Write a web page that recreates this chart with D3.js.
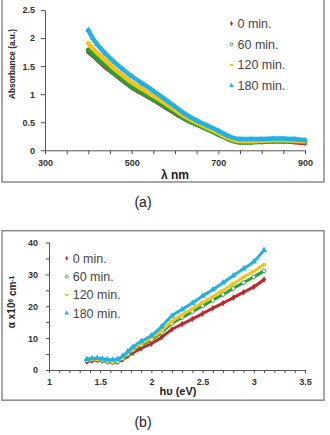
<!DOCTYPE html>
<html>
<head>
<meta charset="utf-8">
<script src="https://cdnjs.cloudflare.com/ajax/libs/d3/7.8.5/d3.min.js"></script>
<style>
body { margin: 0; background: #fff; }
svg { display: block; font-family: "Liberation Sans", Arial, sans-serif; }
</style>
</head>
<body>
<div id="graph"></div>
<script>

// series (same 4 samples in both panels)
var seriesNames  = ["0 min.", "60 min.", "120 min.", "180 min."];
var seriesColors = ["#c1272d", "#23a13c", "#f3c417", "#22b1e6"];
var seriesShapes = ["diamond", "circle", "dash", "triangle"];

// (a) absorbance vs wavelength (nm)
var wavelength = [400, 410, 420, 440, 460, 480, 500, 525, 550, 575, 600, 625, 650, 675, 700, 725, 750, 775, 800, 825, 850, 875, 900];
var abs0   = [1.76, 1.69, 1.62, 1.48, 1.36, 1.24, 1.12, 1.01, 0.90, 0.78, 0.66, 0.55, 0.46, 0.38, 0.29, 0.20, 0.15, 0.15, 0.16, 0.16, 0.16, 0.15, 0.13];
var abs60  = [1.79, 1.72, 1.64, 1.50, 1.37, 1.25, 1.13, 1.02, 0.91, 0.79, 0.67, 0.55, 0.46, 0.37, 0.28, 0.19, 0.14, 0.14, 0.15, 0.16, 0.16, 0.16, 0.15];
var abs120 = [1.91, 1.82, 1.74, 1.60, 1.45, 1.33, 1.21, 1.09, 0.97, 0.85, 0.72, 0.59, 0.49, 0.40, 0.31, 0.21, 0.16, 0.16, 0.17, 0.18, 0.18, 0.17, 0.16];
var abs180 = [2.14, 2.00, 1.89, 1.72, 1.57, 1.44, 1.32, 1.19, 1.06, 0.92, 0.78, 0.64, 0.53, 0.44, 0.35, 0.25, 0.20, 0.20, 0.20, 0.21, 0.21, 0.20, 0.18];
var aXTicks = [300, 500, 700, 900];
var aYTicks = [0, 0.5, 1, 1.5, 2, 2.5];

// (b) absorption coefficient vs photon energy (eV)
var energy = [1.37, 1.42, 1.47, 1.52, 1.57, 1.62, 1.67, 1.72, 1.77, 1.82, 1.90, 2.00, 2.10, 2.20, 2.30, 2.40, 2.50, 2.60, 2.70, 2.80, 2.90, 3.00, 3.10];
var alpha0   = [2.6, 2.9, 3.1, 2.9, 2.7, 2.5, 2.6, 3.3, 4.4, 5.4, 6.8, 8.3, 10.3, 12.7, 14.4, 16.0, 17.7, 19.4, 21.0, 22.7, 24.4, 26.1, 28.4];
var alpha60  = [3.0, 3.2, 3.3, 3.0, 2.7, 2.4, 2.6, 3.6, 4.9, 6.2, 7.8, 9.5, 11.8, 14.6, 16.5, 18.3, 20.1, 21.9, 23.7, 25.6, 27.4, 29.2, 31.1];
var alpha120 = [3.1, 3.3, 3.4, 3.2, 3.0, 2.8, 3.0, 4.0, 5.3, 6.5, 8.3, 10.1, 12.3, 15.3, 17.3, 19.2, 21.2, 23.0, 25.0, 27.1, 29.1, 31.0, 33.1];
var alpha180 = [3.4, 3.6, 3.7, 3.5, 3.3, 3.2, 3.4, 4.4, 5.8, 7.2, 9.0, 10.8, 13.6, 17.0, 19.0, 21.0, 23.2, 25.2, 27.4, 29.6, 31.8, 34.0, 37.6];
var bXTicks = [1, 1.5, 2, 2.5, 3, 3.5];
var bYTicks = [0, 10, 20, 30, 40];

var svg = d3.select("#graph").append("svg")
	.attr("width", 330)
	.attr("height", 435);

function drawMarker(g, shape, color, x, y, hollowFill, k) {
	k = k || 1;
	if (shape == "dash") {
		g.append("rect").attr("x", x - 2 * k).attr("y", y - 1 * k)
			.attr("width", 4 * k).attr("height", 2 * k).attr("fill", color);
	} else if (shape == "circle") {
		g.append("circle").attr("cx", x).attr("cy", y).attr("r", 1.6 * k)
			.attr("fill", hollowFill).attr("stroke", color).attr("stroke-width", 0.9);
	} else {
		var type = shape == "diamond" ? d3.symbolDiamond : d3.symbolTriangle;
		var size = (shape == "diamond" ? 9 : 12) * k * k;
		g.append("path").attr("d", d3.symbol().type(type).size(size)())
			.attr("transform", "translate(" + x + "," + y + ")")
			.attr("fill", color);
	}
}

function drawPanel(p) {
	// chart area border
	svg.append("rect")
		.attr("x", p.frame[0]).attr("y", p.frame[1])
		.attr("width", p.frame[2]).attr("height", p.frame[3])
		.attr("fill", "none").attr("stroke", "#8a8a8a").attr("stroke-width", 1.5);

	var x = d3.scaleLinear().domain(p.xDomain).range(p.xRange);
	var y = d3.scaleLinear().domain(p.yDomain).range(p.yRange);

	var xAxis = d3.axisBottom(x)
		.tickValues(d3.range(p.xDomain[0], p.xDomain[1] + p.xStep / 2, p.xStep))
		.tickFormat(function(d) {
			var hit = p.xLabels.find(v => Math.abs(v - d) < 1e-6);
			return hit === undefined ? "" : String(hit);
		})
		.tickSize(p.tick).tickSizeOuter(0).tickPadding(p.xPad);
	var yAxis = d3.axisLeft(y)
		.tickValues(d3.range(p.yDomain[0], p.yDomain[1] + p.yStep / 2, p.yStep))
		.tickFormat(function(d) {
			var hit = p.yLabels.find(v => Math.abs(v - d) < 1e-6);
			return hit === undefined ? "" : String(hit);
		})
		.tickSize(p.tick).tickSizeOuter(0).tickPadding(p.yPad);

	var gx = svg.append("g").attr("transform", "translate(0," + p.yRange[0] + ")").call(xAxis);
	var gy = svg.append("g").attr("transform", "translate(" + p.xRange[0] + ",0)").call(yAxis);
	[gx, gy].forEach(function(g) {
		g.selectAll("path, line").attr("stroke", "#555");
		g.selectAll("text").attr("fill", "#333").attr("font-size", 9).attr("font-weight", "bold");
	});

	// series: a thick band of packed markers
	var line = d3.line()
		.x(d => x(d[0]))
		.y(d => y(d[1]))
		.curve(d3.curveMonotoneX);

	p.series.forEach(function(vals, i) {
		var pts = p.xs.map((v, j) => [v, vals[j]]);
		var g = svg.append("g");
		g.append("path")
			.attr("d", line(pts))
			.attr("fill", "none")
			.attr("stroke", seriesColors[i])
			.attr("stroke-width", p.band)
			.attr("stroke-linejoin", "round")
			.attr("stroke-linecap", "round");
		pts.forEach(function(d) {
			drawMarker(g, seriesShapes[i], seriesColors[i], x(d[0]), y(d[1]), p.hollow, p.mk);
		});
	});

	// legend
	seriesNames.forEach(function(name, i) {
		var ly = p.legend[1] + i * p.legend[2];
		var lg = svg.append("g");
		drawMarker(lg, seriesShapes[i], seriesColors[i], p.legend[0], ly, "#fff", 0.9);
		lg.append("text")
			.attr("x", p.legend[0] + 6).attr("y", ly)
			.attr("dy", "0.35em")
			.attr("font-size", 12.5)
			.attr("fill", "#454545")
			.text(name);
	});

	// axis titles
	svg.append("text")
		.attr("x", p.xTitle[0]).attr("y", p.xTitle[1])
		.attr("text-anchor", "middle")
		.attr("font-size", p.xTitle[2]).attr("font-weight", "bold").attr("fill", "#222")
		.text(p.xTitle[3]);

	var yt = svg.append("text")
		.attr("transform", "translate(" + p.yTitle[0] + "," + p.yTitle[1] + ") rotate(-90)")
		.attr("text-anchor", "middle")
		.attr("font-size", p.yTitle[2]).attr("font-weight", "bold").attr("fill", "#222");
	p.yTitle[3].forEach(function(part) {
		yt.append("tspan")
			.attr("dy", part.dy || 0)
			.attr("font-size", part.sup ? p.yTitle[2] * 0.65 : null)
			.text(part.t);
	});
	if (p.yTitle[4]) yt.attr("textLength", p.yTitle[4]).attr("lengthAdjust", "spacingAndGlyphs");

	// caption
	svg.append("text")
		.attr("x", p.caption[0]).attr("y", p.caption[1])
		.attr("text-anchor", "middle")
		.attr("font-size", 14).attr("fill", "#222")
		.text(p.caption[2]);
}

drawPanel({
	frame: [2, -1, 322, 183],
	xDomain: [300, 900], xRange: [45, 305], xStep: 50, xLabels: aXTicks,
	yDomain: [0, 2.5], yRange: [150.3, 10], yStep: 0.5, yLabels: aYTicks,
	tick: 4, xPad: 5, yPad: 6,
	xs: wavelength,
	series: [abs0, abs60, abs120, abs180],
	band: 4.5, hollow: "none", mk: 1.1,
	legend: [231.5, 23.5, 20.7],
	xTitle: [175, 178.5, 12, "λ nm"],
	yTitle: [15, 64, 9.5, [{t: "Absorbance (a.u.)"}], 70],
	caption: [143, 207, "(a)"]
});

drawPanel({
	frame: [2, 230.7, 322, 169.5],
	xDomain: [1, 3.5], xRange: [49, 305], xStep: 0.1, xLabels: bXTicks,
	yDomain: [0, 40], yRange: [370, 242.5], yStep: 5, yLabels: bYTicks,
	tick: 3, xPad: 6, yPad: 8,
	xs: energy,
	series: [alpha0, alpha60, alpha120, alpha180],
	band: 3, hollow: "#fff", mk: 1.2,
	legend: [66.7, 258.3, 18.3],
	xTitle: [178, 395, 11, "hυ (eV)"],
	yTitle: [15, 302, 10, [{t: "α x10"}, {t: "6", sup: true, dy: "-0.35em"}, {t: " cm", dy: "0.35em"}, {t: "-1", sup: true, dy: "-0.35em"}], null],
	caption: [143, 427, "(b)"]
});

</script>
</body>
</html>
